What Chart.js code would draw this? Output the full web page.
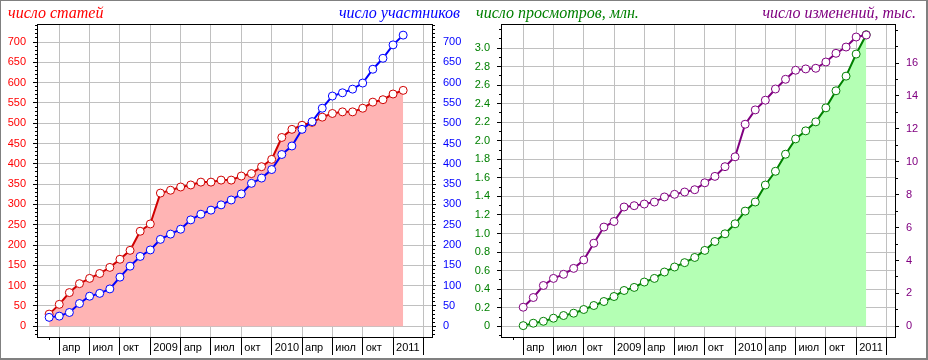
<!DOCTYPE html>
<html>
<head>
<meta charset="utf-8">
<script src="https://cdn.jsdelivr.net/npm/chart.js@4"></script>
<style>
  body { margin: 0; background: #fff; }
  #wrap { position: relative; width: 928px; height: 360px; overflow: hidden; }
  canvas { position: absolute; top: 0; }
  #c1 { left: 0; }
  #c2 { left: 464px; }
  .title { position: absolute; top: 5px; font: italic 16px "Liberation Serif", "Times New Roman", serif; line-height: 16px; white-space: nowrap; }
  #frame { position: absolute; left: 0; top: 0; width: 928px; height: 360px; box-sizing: border-box;
           border: 1px solid #808080; border-bottom-width: 2px; border-right-width: 2px; pointer-events: none; }
</style>
</head>
<body>
<div id="wrap">
  <canvas id="c1" width="464" height="360"></canvas>
  <canvas id="c2" width="464" height="360"></canvas>
  <div class="title" style="left:8px; color:#ff0000">число статей</div>
  <div class="title" style="right:468px; color:#0000ff">число участников</div>
  <div class="title" style="left:476px; color:#008000">число просмотров, млн.</div>
  <div class="title" style="right:12px; color:#800080">число изменений, тыс.</div>
  <div id="frame"></div>
</div>
<script>
// months: index 0 = март 2008 ... index 35 = февраль 2011
const quarterTicks = [1, 4, 7, 10, 13, 16, 19, 22, 25, 28, 31, 34, 37];
const quarterLabels = ['апр', 'июл', 'окт', '2009', 'апр', 'июл', 'окт', '2010', 'апр', 'июл', 'окт', '2011', ''];

const articles = [30, 54, 83, 105, 118, 130, 145, 165, 187, 234, 252, 328, 335, 343, 348, 355, 355, 360,
  360, 370, 376, 393, 411, 465, 485, 495, 502, 515, 524, 528, 528, 537, 552, 558, 572, 581];
const users = [22, 25, 34, 56, 74, 81, 92, 121, 148, 172, 188, 214, 227, 239, 262, 276, 286, 299,
  311, 326, 352, 365, 386, 423, 444, 485, 504, 537, 567, 575, 584, 599, 633, 660, 693, 717];

// views in millions, edits in thousands (no value for March 2008)
const views = [null, 0.007, 0.033, 0.054, 0.087, 0.116, 0.141, 0.181, 0.224, 0.267, 0.321, 0.386, 0.419,
  0.477, 0.516, 0.585, 0.639, 0.686, 0.742, 0.818, 0.914, 0.997, 1.105, 1.242, 1.340, 1.523, 1.671,
  1.855, 2.020, 2.107, 2.204, 2.355, 2.539, 2.697, 2.935, 3.144];
const edits = [null, 1.16, 1.75, 2.48, 2.91, 3.16, 3.52, 4.03, 5.05, 6.03, 6.37, 7.25, 7.33, 7.43, 7.55,
  7.86, 8.02, 8.16, 8.30, 8.72, 9.11, 9.70, 10.30, 12.28, 13.15, 13.74, 14.42, 15.01, 15.56, 15.64,
  15.68, 16.06, 16.59, 16.97, 17.58, 17.70];

const countTicks = [0, 50, 100, 150, 200, 250, 300, 350, 400, 450, 500, 550, 600, 650, 700];
const viewTicks = [0, 0.2, 0.4, 0.6, 0.8, 1.0, 1.2, 1.4, 1.6, 1.8, 2.0, 2.2, 2.4, 2.6, 2.8, 3.0];
const editTicks = [0, 2, 4, 6, 8, 10, 12, 14, 16];

const tickFont = { family: '"Liberation Sans", Arial, sans-serif', size: 11 };

// top frame line + short minor ticks
const minorTicks = {
  id: 'minorTicks',
  afterDraw(chart, args, opts) {
    const { ctx, chartArea: a } = chart;
    ctx.save();
    ctx.strokeStyle = '#000';
    ctx.lineWidth = 1;
    ctx.beginPath();
    ctx.moveTo(a.left, Math.round(a.top) + 0.5);
    ctx.lineTo(a.right + 1, Math.round(a.top) + 0.5);
    for (const id of ['y', 'y1']) {
      const s = chart.scales[id];
      const step = opts[id];
      for (let k = Math.ceil(s.min / step); k * step <= s.max; k++) {
        const py = Math.round(s.getPixelForValue(k * step) - 0.5) + 0.5;
        if (id === 'y') {
          ctx.moveTo(a.left - 2, py); ctx.lineTo(a.left, py);
        } else {
          ctx.moveTo(a.right, py); ctx.lineTo(a.right + 3, py);
        }
      }
    }
    const px = Math.round(chart.scales.x.getPixelForValue(0) - 0.5) + 0.5;
    ctx.moveTo(px, a.bottom); ctx.lineTo(px, a.bottom + 3);
    ctx.stroke();
    ctx.restore();
  }
};

function xAxis() {
  return {
    type: 'linear', min: -1.2, max: 37.85,
    afterBuildTicks: s => { s.ticks = quarterTicks.map(v => ({ value: v })); },
    afterFit: s => { s.height = 23; },
    grid: { color: '#c0c0c0', tickColor: '#000', tickLength: 18 },
    border: { color: '#000' },
    ticks: {
      align: 'start', labelOffset: 3, padding: -14, maxRotation: 0, autoSkip: false,
      color: '#000', font: tickFont,
      callback: (v, i) => quarterLabels[i]
    }
  };
}

function yAxis(side, min, max, ticks, color, width, fmt, gridOn) {
  return {
    type: 'linear', position: side, min: min, max: max,
    afterBuildTicks: s => { s.ticks = ticks.map(v => ({ value: v })); },
    afterFit: s => { s.width = width; },
    grid: { display: true, drawOnChartArea: gridOn, color: '#c0c0c0', tickColor: '#000', tickLength: 4 },
    border: { color: '#000' },
    ticks: { color: color, padding: 7, font: tickFont, callback: fmt }
  };
}

function lineSet(values, axis, color, fill, order) {
  return {
    data: values.map((v, i) => ({ x: i, y: v })),
    yAxisID: axis,
    borderColor: color,
    backgroundColor: fill || color,
    fill: fill ? 'origin' : false,
    borderWidth: 2,
    tension: 0,
    pointRadius: 4,
    pointBackgroundColor: '#fff',
    pointBorderColor: color,
    pointBorderWidth: 1,
    order: order
  };
}

const common = {
  responsive: false,
  animation: false,
  layout: { padding: { top: 24, left: 0, right: 0, bottom: 0 } },
  plugins: { legend: { display: false }, tooltip: { enabled: false } }
};

new Chart('c1', {
  type: 'line',
  data: {
    datasets: [
      lineSet(articles, 'y', '#d00000', '#ffb4b4', 2),
      lineSet(users, 'y1', '#0000ff', null, 1)
    ]
  },
  options: Object.assign({}, common, {
    scales: {
      x: xAxis(),
      y: yAxis('left', -26.4, 744.4, countTicks, '#ff0000', 37, v => String(v), true),
      y1: yAxis('right', -26.4, 744.4, countTicks, '#0000ff', 32, v => String(v), false)
    },
    plugins: Object.assign({}, common.plugins, { minorTicks: { y: 10, y1: 10 } })
  }),
  plugins: [minorTicks]
});

new Chart('c2', {
  type: 'line',
  data: {
    datasets: [
      lineSet(views, 'y', '#008000', '#b4ffb4', 2),
      lineSet(edits, 'y1', '#800080', null, 1)
    ]
  },
  options: Object.assign({}, common, {
    scales: {
      x: xAxis(),
      y: yAxis('left', -0.1156, 3.259, viewTicks, '#008000', 37, v => v === 0 ? '0' : v.toFixed(1), true),
      y1: yAxis('right', -0.65, 18.37, editTicks, '#800080', 33, v => String(v), false)
    },
    plugins: Object.assign({}, common.plugins, { minorTicks: { y: 0.1, y1: 1 } })
  }),
  plugins: [minorTicks]
});
</script>
</body>
</html>
